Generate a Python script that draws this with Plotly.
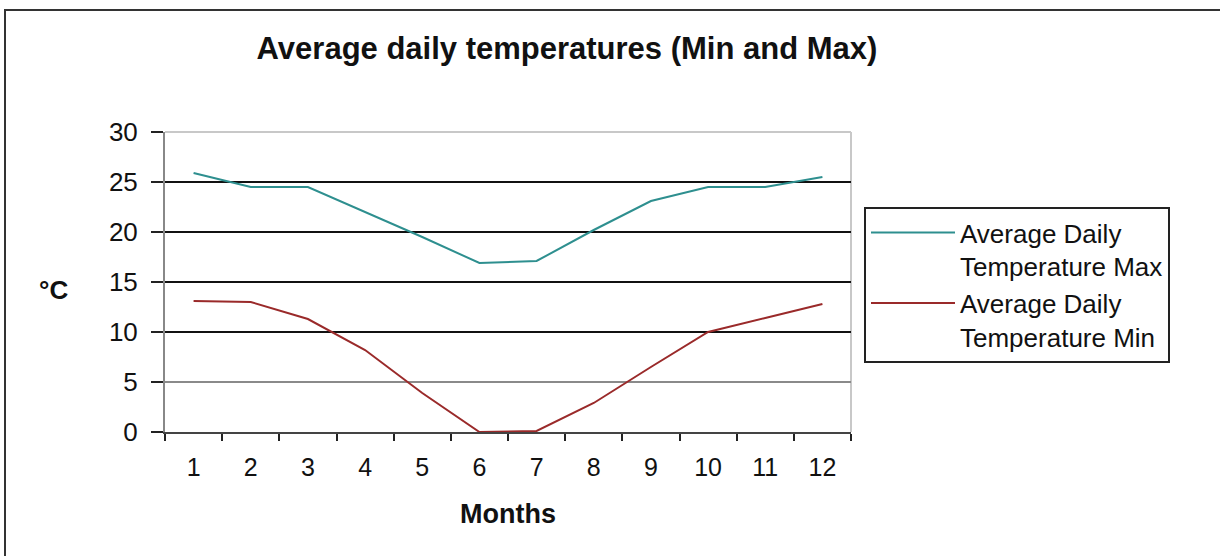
import plotly.graph_objects as go

months = ["1", "2", "3", "4", "5", "6", "7", "8", "9", "10", "11", "12"]
temp_max = [25.9, 24.5, 24.5, 22.0, 19.5, 16.9, 17.1, 20.2, 23.1, 24.5, 24.5, 25.5]
temp_min = [13.1, 13.0, 11.3, 8.2, 3.9, 0.0, 0.1, 2.9, 6.5, 10.0, 11.4, 12.8]
y_ticks = [0, 5, 10, 15, 20, 25, 30]
grid_dark = [10, 15, 20, 25]
grid_light = [5]

FONT = "Liberation Sans, Arial, sans-serif"
W, H = 1220, 556
L, R, T, B = 165, 851, 132, 432

def px_x(p):
    return (p - L) / (R - L)

def px_y(p):
    return (B - p) / (B - T)

fig = go.Figure()
# invisible helper traces that activate the overlay grid axes
fig.add_trace(go.Scatter(x=[months[0]], y=[None], yaxis="y2", showlegend=False,
                         hoverinfo="skip"))
fig.add_trace(go.Scatter(x=[months[0]], y=[None], yaxis="y3", showlegend=False,
                         hoverinfo="skip"))
fig.add_trace(go.Scatter(x=months, y=temp_max, mode="lines",
                         name="Average Daily<br>Temperature Max",
                         line=dict(color="#2e8f8f", width=2)))
fig.add_trace(go.Scatter(x=months, y=temp_min, mode="lines",
                         name="Average Daily<br>Temperature Min",
                         line=dict(color="#9a2a2a", width=2)))

fig.update_layout(
    width=W, height=H,
    margin=dict(l=L, r=W - R, t=T, b=H - B, autoexpand=False),
    paper_bgcolor="white", plot_bgcolor="white",
    font=dict(family=FONT, color="#111111", size=25),
    title=dict(text="<b>Average daily temperatures (Min and Max)</b>",
               x=567 / W, xanchor="center", xref="container",
               y=1 - 48 / H, yanchor="middle", yref="container",
               font=dict(size=31, family=FONT, color="#111111")),
    showlegend=True,
    legend=dict(x=px_x(864), y=px_y(207), xanchor="left", yanchor="top",
                bordercolor="#222222", borderwidth=2, bgcolor="white",
                font=dict(size=26, family=FONT, color="#111111"),
                valign="top", itemwidth=84),
    xaxis=dict(type="category", range=[-0.5, 11.5],
               showgrid=False, showline=True, linecolor="#444444", linewidth=2,
               ticks="outside", tickson="boundaries", ticklen=7,
               tickcolor="#222222", tickwidth=2,
               ticklabelstandoff=12,
               tickfont=dict(size=25, family=FONT, color="#111111"),
               title=dict(text="<b>Months</b>", standoff=24,
                          font=dict(size=27, family=FONT, color="#111111")),
               zeroline=False),
    yaxis=dict(range=[0, 30], tickvals=y_ticks, showgrid=False,
               showline=True, linecolor="#888888", linewidth=2,
               ticks="outside", ticklen=12, tickcolor="#222222", tickwidth=2,
               ticklabelstandoff=8,
               tickfont=dict(size=26, family=FONT, color="#111111"),
               zeroline=False),
    yaxis2=dict(range=[0, 30], overlaying="y", tickvals=grid_dark,
                showgrid=True, gridcolor="#111111", gridwidth=1.5,
                showticklabels=False, ticks="", showline=False, zeroline=False),
    yaxis3=dict(range=[0, 30], overlaying="y", tickvals=grid_light,
                showgrid=True, gridcolor="#8a8a8a", gridwidth=1.5,
                showticklabels=False, ticks="", showline=False, zeroline=False),
)

# plot area frame (light grey top/right)
fig.add_shape(type="line", xref="paper", yref="paper", x0=0, x1=1, y0=1, y1=1,
              line=dict(color="#c8c8c8", width=2), layer="below")
fig.add_shape(type="line", xref="paper", yref="paper", x0=1, x1=1, y0=0, y1=1,
              line=dict(color="#c8c8c8", width=2), layer="below")

# outer chart border
fig.add_shape(type="rect", xref="paper", yref="paper",
              x0=px_x(5), x1=px_x(1230), y0=px_y(570), y1=px_y(10),
              line=dict(color="#333333", width=2), fillcolor="rgba(0,0,0,0)")

# y axis title (horizontal)
fig.add_annotation(text="<b>°C</b>", xref="paper", yref="paper",
                   x=px_x(53), y=px_y(290), xanchor="center", yanchor="middle",
                   showarrow=False, font=dict(size=26, family=FONT, color="#111111"))

fig.write_html("out.html", config={"displayModeBar": False},
               post_script="document.body.style.margin='0px';document.body.style.overflow='hidden';")
